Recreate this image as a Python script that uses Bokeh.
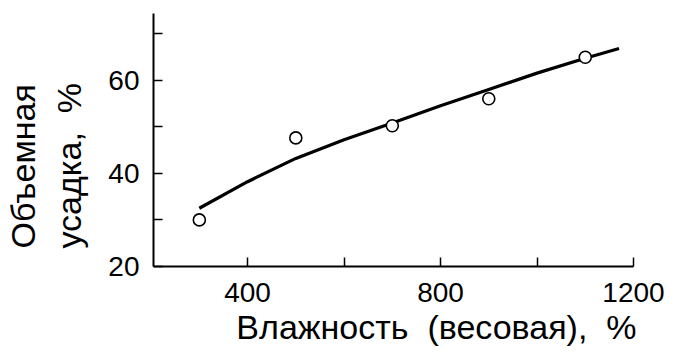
from bokeh.plotting import figure
from bokeh.models import FixedTicker, Range1d, Title
from bokeh.embed import file_html
from bokeh.resources import INLINE

# measured points
meas_x = [300, 500, 700, 900, 1100]
meas_y = [30.0, 47.6, 50.2, 56.0, 64.9]
# fitted curve
fit_x = [300, 400, 500, 600, 700, 800, 900, 1000, 1100, 1170]
fit_y = [32.5, 38.2, 43.2, 47.2, 50.8, 54.5, 58.0, 61.5, 64.7, 66.8]
# ticks
x_major = [400, 800, 1200]
x_minor = [600, 1000]
y_major = [20, 40, 60]
y_minor = [30, 50, 70]

x_title = "Влажность\u00a0\u00a0(весовая),\u00a0\u00a0%"
y_title_1 = "Объемная"
y_title_2 = "усадка,\u00a0\u00a0%"

FONT = "Liberation Sans"

p = figure(width=667, height=352, x_range=Range1d(205, 1200), y_range=Range1d(20, 74.3),
           output_backend="svg", toolbar_location=None,
           min_border_left=153, min_border_right=34, min_border_top=13, min_border_bottom=86)
p.outline_line_color = None
p.xgrid.visible = False
p.ygrid.visible = False
p.background_fill_color = "white"
p.border_fill_color = "white"

p.line(fit_x, fit_y, line_color="black", line_width=3.2)
p.scatter(meas_x, meas_y, marker="circle", size=12, fill_color="white",
          line_color="black", line_width=1.6)

for ax in (p.xaxis[0], p.yaxis[0]):
    ax.axis_line_width = 2
    ax.axis_line_color = "black"
    ax.major_tick_in = 9
    ax.major_tick_out = 0
    ax.minor_tick_in = 9
    ax.minor_tick_out = 0
    ax.major_tick_line_width = 1.5
    ax.minor_tick_line_width = 1.5
    ax.major_tick_line_color = "black"
    ax.minor_tick_line_color = "black"
    ax.major_label_text_font = FONT
    ax.major_label_text_font_size = "28px"
    ax.major_label_text_color = "black"

p.xaxis.ticker = FixedTicker(ticks=x_major, minor_ticks=x_minor)
p.yaxis.ticker = FixedTicker(ticks=y_major, minor_ticks=y_minor)
p.xaxis.major_label_standoff = 16
p.yaxis.major_label_standoff = 14

p.add_layout(Title(text=x_title, align="right", offset=-3, standoff=3,
                   text_font=FONT, text_font_size="34px", text_font_style="normal",
                   text_color="black"), "below")
p.add_layout(Title(text=y_title_2, align="left", offset=18, standoff=36,
                   text_font=FONT, text_font_size="34px", text_font_style="normal",
                   text_color="black"), "left")
p.add_layout(Title(text=y_title_1, align="left", offset=18, standoff=-25,
                   text_font=FONT, text_font_size="34px", text_font_style="normal",
                   text_color="black"), "left")

open("out.html", "w").write(file_html(p, INLINE))
